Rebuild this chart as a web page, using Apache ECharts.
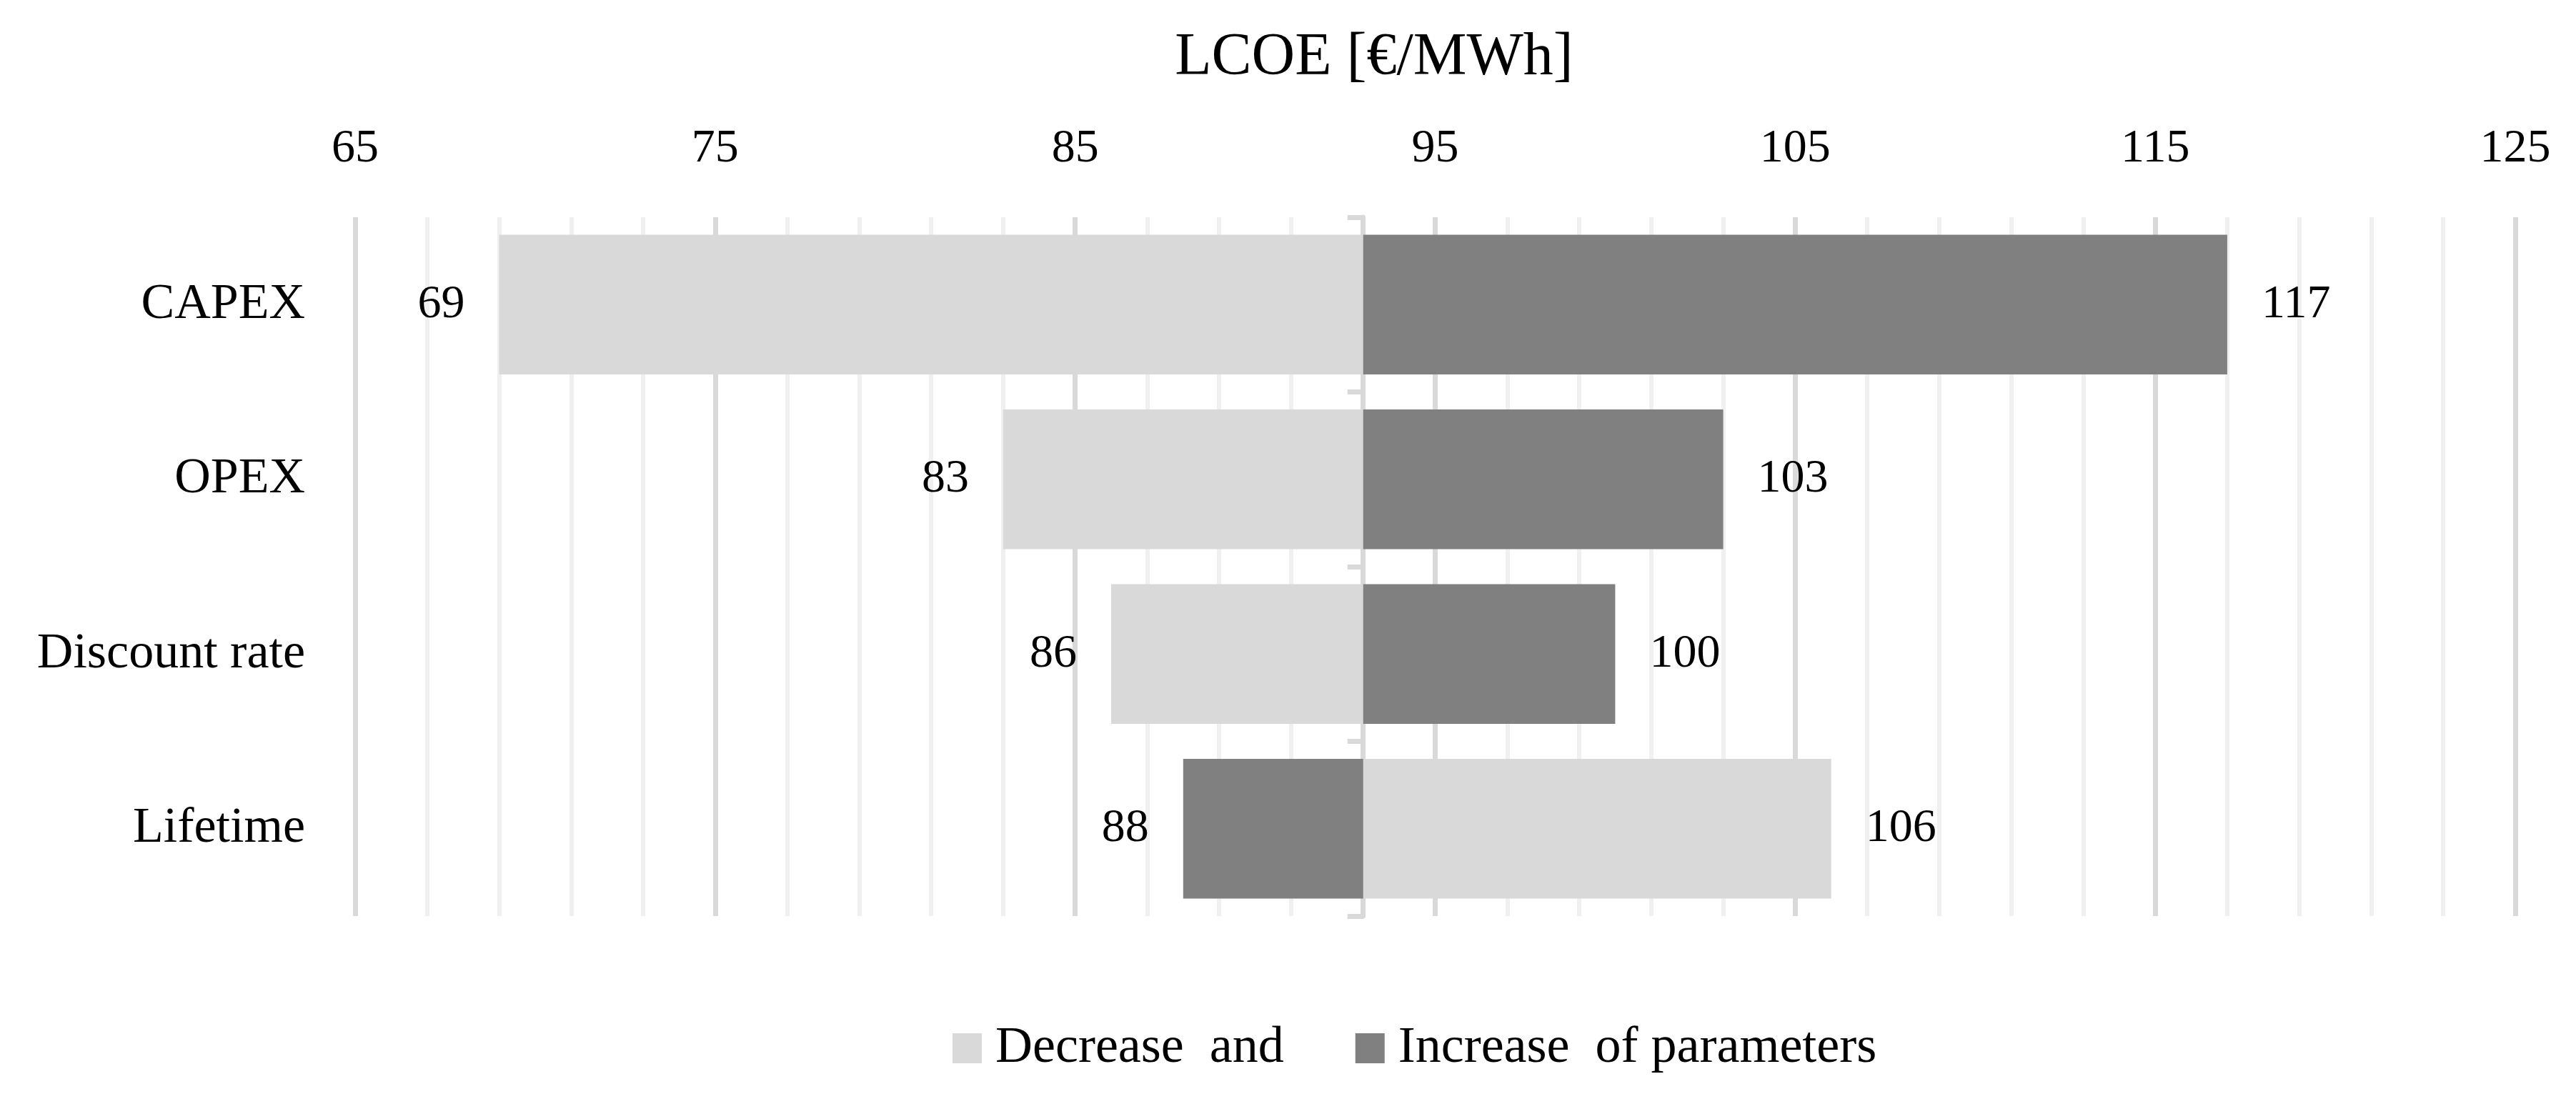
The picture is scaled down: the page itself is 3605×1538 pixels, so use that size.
<!DOCTYPE html>
<html>
<head>
<meta charset="utf-8">
<script src="https://cdn.jsdelivr.net/npm/echarts@6/dist/echarts.min.js"></script>
<style>
html,body{margin:0;padding:0;background:#fff;}
#chart{width:3605px;height:1538px;}
</style>
</head>
<body>
<div id="chart"></div>
<script>
const categories = ['CAPEX', 'OPEX', 'Discount rate', 'Lifetime'];
const baseLCOE = 93;
const decreaseLCOE = [69, 83, 86, 106];
const increaseLCOE = [117, 103, 100, 88];
const axisMin = 65, axisMax = 125, axisStep = 10;
const seriesNames = ['Decrease  and', 'Increase  of parameters'];
const titleText = 'LCOE [€/MWh]';

const FONT = 'Liberation Serif';
const LIGHT = '#d9d9d9', DARK = '#808080';

function helperData(vals) { return vals.map(v => Math.min(v, baseLCOE)); }
function barData(vals) {
  return vals.map(v => ({
    value: Math.abs(v - baseLCOE),
    lcoe: v,
    label: { position: v < baseLCOE ? 'left' : 'right' }
  }));
}
const labelCfg = {
  show: true, distance: 48, fontFamily: FONT, fontSize: 66, color: '#000',
  formatter: p => String(p.data.lcoe)
};

const chart = echarts.init(document.getElementById('chart'), null, {renderer: 'canvas'});
chart.setOption({
  animation: false,
  backgroundColor: '#fff',
  graphic: [{
    type: 'text', x: 1923, y: 82,
    style: { text: titleText, align: 'center', verticalAlign: 'middle',
             fontFamily: FONT, fontSize: 84, fill: '#000' }
  }],
  legend: {
    left: 1328, top: 1426,
    data: seriesNames,
    icon: 'rect', itemWidth: 41, itemHeight: 42, itemGap: 100,
    textStyle: { fontFamily: FONT, fontSize: 72, color: '#000', padding: [0, 0, 0, 14] }
  },
  grid: { left: 497, right: 85, top: 304, bottom: 256 },
  xAxis: [{
    type: 'value', position: 'top', min: axisMin, max: axisMax, interval: axisStep,
    axisLine: { show: false }, axisTick: { show: false },
    axisLabel: { fontFamily: FONT, fontSize: 66, color: '#000', margin: 62 },
    splitLine: { show: true, lineStyle: { color: '#d9d9d9', width: 7 } },
    minorTick: { show: false, splitNumber: 5 },
    minorSplitLine: { show: true, lineStyle: { color: '#f0f0f0', width: 6 } }
  }, {
    type: 'value', show: false, min: axisMin - baseLCOE, max: axisMax - baseLCOE,
    splitLine: { show: false }
  }],
  yAxis: [{
    type: 'category', data: categories, inverse: true,
    axisLine: { show: false }, axisTick: { show: false },
    axisLabel: { fontFamily: FONT, fontSize: 70, color: '#000', margin: 70 }
  }, {
    type: 'category', data: categories, inverse: true, position: 'left',
    axisLine: { show: true, onZero: true, onZeroAxisIndex: 1, lineStyle: { color: '#d9d9d9', width: 7 } },
    axisTick: { show: true, length: 22, lineStyle: { color: '#d9d9d9', width: 7 } },
    axisLabel: { show: false }
  }],
  series: [
    { name: 'decHelper', type: 'bar', stack: 'dec', xAxisIndex: 0, yAxisIndex: 0,
      itemStyle: { color: 'rgba(0,0,0,0)' }, data: helperData(decreaseLCOE),
      barCategoryGap: '20%', barGap: '-100%', silent: true },
    { name: seriesNames[0], type: 'bar', stack: 'dec', xAxisIndex: 0, yAxisIndex: 0,
      itemStyle: { color: LIGHT }, data: barData(decreaseLCOE), label: labelCfg,
      barCategoryGap: '20%', barGap: '-100%' },
    { name: 'incHelper', type: 'bar', stack: 'inc', xAxisIndex: 0, yAxisIndex: 0,
      itemStyle: { color: 'rgba(0,0,0,0)' }, data: helperData(increaseLCOE),
      barCategoryGap: '20%', barGap: '-100%', silent: true },
    { name: seriesNames[1], type: 'bar', stack: 'inc', xAxisIndex: 0, yAxisIndex: 0,
      itemStyle: { color: DARK }, data: barData(increaseLCOE), label: labelCfg,
      barCategoryGap: '20%', barGap: '-100%' }
  ]
});
</script>
</body>
</html>
